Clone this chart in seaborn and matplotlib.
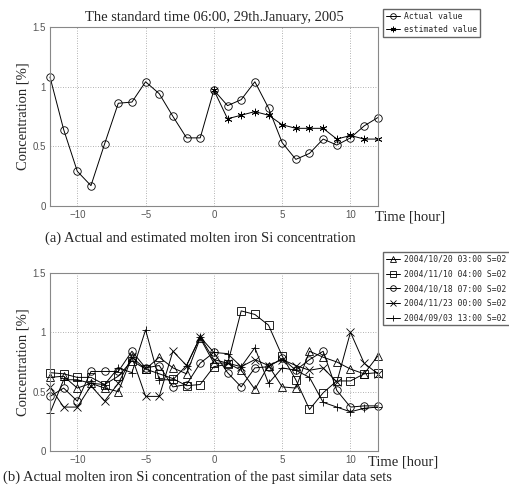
import numpy as np
import pandas as pd
import matplotlib
matplotlib.use("Agg")
import matplotlib.pyplot as plt
import seaborn as sns

# time axis [hour]
hours = list(range(-12, 13))
hours_est = list(range(0, 13))

# (a) actual and estimated Si concentration
actual = [1.08, 0.64, 0.29, 0.17, 0.52, 0.86, 0.87, 1.04, 0.94, 0.75, 0.57, 0.57,
          0.97, 0.84, 0.89, 1.04, 0.82, 0.53, 0.39, 0.44, 0.56, 0.51, 0.57, 0.67, 0.74]
estimated = [0.97, 0.73, 0.76, 0.79, 0.76, 0.68, 0.65, 0.65, 0.65, 0.56, 0.59, 0.56, 0.56]

# (b) past similar data sets
past_labels = ["2004/10/20 03:00 S=02", "2004/11/10 04:00 S=02", "2004/10/18 07:00 S=02",
               "2004/11/23 00:00 S=02", "2004/09/03 13:00 S=02"]
past_triangle = [0.62, 0.63, 0.53, 0.57, 0.53, 0.50, 0.79, 0.69, 0.79, 0.70, 0.65, 0.95,
                 0.74, 0.74, 0.68, 0.52, 0.72, 0.54, 0.53, 0.84, 0.79, 0.75, 0.69, 0.65, 0.80]
past_square = [0.66, 0.65, 0.62, 0.62, 0.56, 0.63, 0.76, 0.69, 0.65, 0.61, 0.55, 0.56,
               0.71, 0.73, 1.18, 1.15, 1.06, 0.80, 0.60, 0.35, 0.49, 0.59, 0.59, 0.65, 0.66]
past_circle = [0.46, 0.53, 0.42, 0.67, 0.67, 0.67, 0.84, 0.70, 0.72, 0.54, 0.56, 0.74,
               0.83, 0.66, 0.54, 0.70, 0.71, 0.78, 0.68, 0.77, 0.84, 0.51, 0.37, 0.38, 0.38]
past_cross = [0.54, 0.37, 0.37, 0.55, 0.42, 0.57, 0.79, 0.46, 0.46, 0.84, 0.72, 0.96,
              0.77, 0.74, 0.71, 0.77, 0.72, 0.77, 0.72, 0.68, 0.70, 0.58, 1.00, 0.74, 0.65]
past_plus = [0.32, 0.60, 0.60, 0.57, 0.56, 0.70, 0.66, 1.02, 0.60, 0.60, 0.72, 0.96,
             0.83, 0.82, 0.71, 0.87, 0.57, 0.70, 0.68, 0.62, 0.41, 0.37, 0.33, 0.36, 0.37]

sns.set_style("white")
plt.rcParams["font.family"] = ["DejaVu Sans"]

serif = "Liberation Serif"
mono = "DejaVu Sans Mono"
asterisk = (6, 2, 0)

fig = plt.figure(figsize=(5.09, 4.88), dpi=100)
ax1 = fig.add_axes([0.0982, 0.578, 0.644, 0.367])
ax2 = fig.add_axes([0.0982, 0.0758, 0.644, 0.365])


def style_axes(ax):
    ax.set_xlim(-12, 12)
    ax.set_ylim(0, 1.5)
    ax.set_xticks([-10, -5, 0, 5, 10])
    ax.set_yticks([0, 0.5, 1, 1.5])
    ax.set_yticklabels(["0", "0.5", "1", "1.5"])
    ax.set_xticklabels(["\u221210", "\u22125", "0", "5", "10"])
    ax.grid(True, linestyle=(0, (1, 2)), color="#999999", linewidth=0.6)
    ax.tick_params(direction="in", length=3, width=0.6, color="#777777",
                   labelsize=7, labelcolor="#555555", pad=3)
    for lab in ax.get_xticklabels() + ax.get_yticklabels():
        lab.set_family("Liberation Sans")
    for sp in ax.spines.values():
        sp.set_color("#888888")
        sp.set_linewidth(0.8)
    ax.set_xlabel("")
    ax.set_ylabel("Concentration [%]", family=serif, fontsize=10.5, labelpad=2)
    for ln in ax.get_lines():
        ln.set_clip_on(False)


line_kw = dict(color="black", linewidth=0.7, markersize=5.4, markeredgewidth=0.6)
leg_kw = dict(loc="upper left", prop={"family": mono, "size": 5.8},
              frameon=True, fancybox=False, edgecolor="#666666", framealpha=1,
              borderpad=0.35, handlelength=1.8, handletextpad=0.5,
              borderaxespad=0, markerscale=0.75)

# top panel
sns.lineplot(x=hours, y=actual, ax=ax1, marker="o", markerfacecolor="none",
             markeredgecolor="black", label="Actual value", **line_kw)
sns.lineplot(x=hours_est, y=estimated, ax=ax1, marker=asterisk,
             markeredgecolor="black", label="estimated value", **line_kw)
style_axes(ax1)
ax1.set_title("The standard time 06:00, 29th.January, 2005", family=serif,
              fontsize=10.5, pad=4)
ax1.legend(bbox_to_anchor=(383 / 509, 1 - 9 / 488), bbox_transform=fig.transFigure,
           labelspacing=0.55, **leg_kw)

# bottom panel
past_series = [past_triangle, past_square, past_circle, past_cross, past_plus]
past_markers = ["^", "s", "o", "x", "+"]
for vals, mk, lab in zip(past_series, past_markers, past_labels):
    kw = dict(line_kw)
    if mk in ("^", "s", "o"):
        kw["markerfacecolor"] = "none"
    sns.lineplot(x=hours, y=vals, ax=ax2, marker=mk, markeredgecolor="black",
                 label=lab, **kw)
style_axes(ax2)
ax2.legend(bbox_to_anchor=(383 / 509, 1 - 252 / 488), bbox_transform=fig.transFigure,
           labelspacing=0.7, **leg_kw)

# axis captions
fig.text(375 / 509, 1 - 217 / 488, "Time [hour]", family=serif, fontsize=10.5,
         va="center", ha="left")
fig.text(45 / 509, 1 - 238 / 488,
         "(a) Actual and estimated molten iron Si concentration",
         family=serif, fontsize=10.5, va="center", ha="left")
fig.text(368 / 509, 1 - 462 / 488, "Time [hour]", family=serif, fontsize=10.5,
         va="center", ha="left")
fig.text(3 / 509, 1 - 477 / 488,
         "(b) Actual molten iron Si concentration of the past similar data sets",
         family=serif, fontsize=10.5, va="center", ha="left")

fig.savefig("out.png", dpi=100)
